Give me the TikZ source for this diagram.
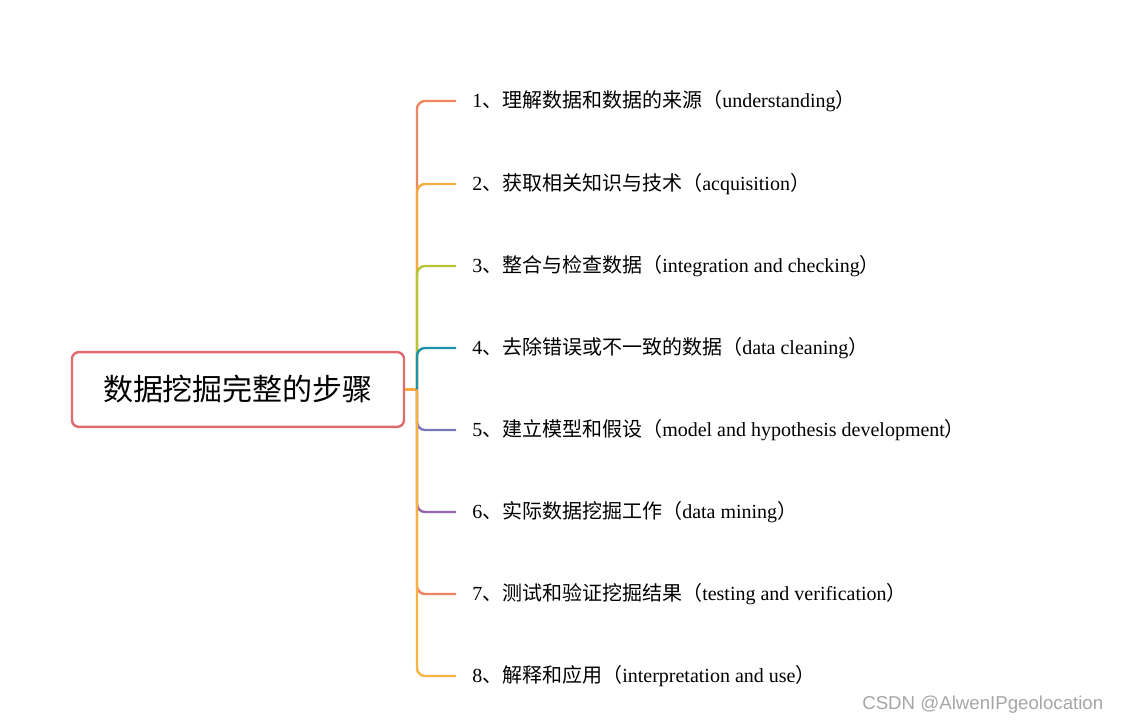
\documentclass[tikz,border=0pt]{standalone}
\usepackage{fontspec}
\setmainfont{Liberation Serif}
\newfontfamily\cjk{Noto Sans CJK SC}
\usetikzlibrary{positioning,calc}
\definecolor{cA}{HTML}{EC8663}
\definecolor{cB}{HTML}{F5AA42}
\definecolor{cC}{HTML}{B6C535}
\definecolor{cD}{HTML}{1A92A8}
\definecolor{cE}{HTML}{7A76B8}
\definecolor{cF}{HTML}{9467A9}
\definecolor{cG}{HTML}{EF8060}
\definecolor{cH}{HTML}{F6B340}
\definecolor{rootred}{HTML}{E06B6F}
\tikzset{
  rootbox/.style={draw=rootred, line width=1.8pt, rounded corners=5pt, fill=white,
    minimum width=249pt, minimum height=56pt, font=\cjk\fontsize{22.5}{26}\selectfont},
  item/.style={anchor=west, inner sep=0pt, font=\fontsize{15}{18}\selectfont},
  branch/.style={line width=1.8pt, rounded corners=6pt}
}
\begin{document}
\begin{tikzpicture}[x=0.75pt,y=-0.75pt]
  \useasboundingbox (0,0) rectangle (1122,724);

  \node (root) [rootbox] at (238,389.5) {数据挖掘完整的步骤};
  \coordinate (hub) at (417,389.5);
  \draw[cB, line width=1.8pt] (root.east) -- (hub);

  \node (s1) [item] at (472,101) {1{\cjk 、理解数据和数据的来源（}understanding{\cjk ）}};
  \node (s2) [item] at (472,184) {2{\cjk 、获取相关知识与技术（}acquisition{\cjk ）}};
  \node (s3) [item] at (472,266) {3{\cjk 、整合与检查数据（}integration and checking{\cjk ）}};
  \node (s4) [item] at (472,348) {4{\cjk 、去除错误或不一致的数据（}data cleaning{\cjk ）}};
  \node (s5) [item] at (472,430) {5{\cjk 、建立模型和假设（}model and hypothesis development{\cjk ）}};
  \node (s6) [item] at (472,512) {6{\cjk 、实际数据挖掘工作（}data mining{\cjk ）}};
  \node (s7) [item] at (472,594) {7{\cjk 、测试和验证挖掘结果（}testing and verification{\cjk ）}};
  \node (s8) [item] at (472,676) {8{\cjk 、解释和应用（}interpretation and use{\cjk ）}};

  % branches, outer ones first
  \foreach \n/\c in {1/cA,2/cB,3/cC,4/cD,5/cE,6/cF,7/cG,8/cH}
    \draw[branch,\c] (hub) |- ($(s\n.west)+(-16,0)$);

  \node (mark) [anchor=east, text=gray!70, font=\fontspec{Liberation Sans}\fontsize{14}{16}\selectfont]
    at (1108,705) {CSDN @AlwenIPgeolocation};
\end{tikzpicture}
\end{document}
